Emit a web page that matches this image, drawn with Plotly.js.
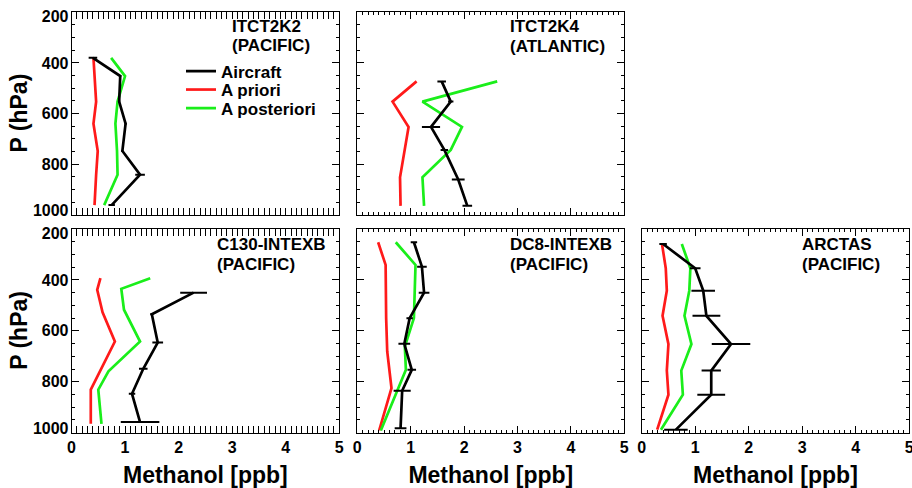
<!DOCTYPE html>
<html>
<head>
<meta charset="utf-8">
<script src="https://cdn.plot.ly/plotly-3.0.1.min.js"></script>
<style>html,body{margin:0;padding:0;background:#fff;}#chart{width:912px;height:488px;}</style>
</head>
<body>
<div id="chart"></div>
<script>
// ---- Data (Methanol [ppb] vs pressure [hPa]) ----
// Panel A: ITCT2K2 (PACIFIC)
var acP_A = [380, 452, 553, 640, 748, 842, 962];
var acX_A = [0.40, 0.91, 0.89, 1.01, 0.95, 1.28, 0.75];
var acE_A = [0.08, 0.02, 0.02, 0.02, 0.02, 0.09, 0.06];
var prP_A = [380, 553, 640, 748, 842, 962];
var prX_A = [0.41, 0.46, 0.41, 0.49, 0.46, 0.43];
var poP_A = [380, 452, 553, 640, 748, 842, 962];
var poX_A = [0.74, 1.00, 0.86, 0.82, 0.85, 0.86, 0.61];
// Panel B: ITCT2K4 (ATLANTIC)
var acP_B = [473, 553, 653, 744, 861, 965];
var acX_B = [1.58, 1.75, 1.38, 1.63, 1.89, 2.06];
var acE_B = [0.08, 0.05, 0.17, 0.07, 0.12, 0.09];
var prP_B = [473, 553, 653, 852, 965];
var prX_B = [1.11, 0.66, 0.96, 0.80, 0.81];
var poP_B = [473, 553, 653, 744, 852, 965];
var poX_B = [2.62, 1.22, 1.96, 1.75, 1.22, 1.25];
// Panel C: C130-INTEXB (PACIFIC)
var acP_C = [450, 535, 646, 749, 847, 958];
var acX_C = [2.28, 1.50, 1.61, 1.34, 1.13, 1.28];
var acE_C = [0.25, 0.03, 0.10, 0.08, 0.06, 0.36];
var prP_C = [393, 439, 527, 642, 831, 965];
var prX_C = [0.54, 0.48, 0.58, 0.81, 0.36, 0.36];
var poP_C = [393, 435, 517, 642, 759, 831, 965];
var poX_C = [1.47, 0.93, 0.98, 1.28, 0.69, 0.50, 0.56];
// Panel D: DC8-INTEXB (PACIFIC)
var acP_D = [252, 348, 450, 550, 651, 753, 835, 982];
var acX_D = [1.06, 1.21, 1.25, 0.98, 0.88, 1.02, 0.84, 0.81];
var acE_D = [0.06, 0.09, 0.10, 0.06, 0.11, 0.08, 0.16, 0.11];
var prP_D = [252, 341, 550, 681, 825, 991];
var prX_D = [0.39, 0.53, 0.54, 0.56, 0.64, 0.41];
var poP_D = [252, 341, 550, 662, 753, 991];
var poX_D = [0.72, 1.09, 1.06, 0.89, 0.91, 0.44];
// Panel E: ARCTAS (PACIFIC)
var acP_E = [259, 354, 442, 541, 652, 756, 851, 988];
var acX_E = [0.40, 1.00, 1.15, 1.21, 1.67, 1.30, 1.30, 0.64];
var acE_E = [0.07, 0.10, 0.22, 0.26, 0.36, 0.18, 0.26, 0.22];
var prP_E = [259, 354, 442, 541, 652, 756, 851, 988];
var prX_E = [0.38, 0.45, 0.47, 0.39, 0.50, 0.47, 0.50, 0.29];
var poP_E = [259, 354, 442, 541, 652, 756, 851, 988];
var poX_E = [0.75, 0.91, 0.89, 0.80, 0.93, 0.74, 0.77, 0.36];

var panelNames = ["ITCT2K2", "ITCT2K4", "C130-INTEXB", "DC8-INTEXB", "ARCTAS"];
var panelRegions = ["(PACIFIC)", "(ATLANTIC)", "(PACIFIC)", "(PACIFIC)", "(PACIFIC)"];
var seriesNames = ["Aircraft", "A priori", "A posteriori"];
var xTickVals = [0, 1, 2, 3, 4, 5];
var yTickVals = [200, 400, 600, 800, 1000];
var yTickText = ["200", "400", "600", "800", "1000"];
var xLabel = "Methanol [ppb]";
var yLabel = "P (hPa)";

// ---- Styling ----
var FONT = "Liberation Sans, Arial, Helvetica, sans-serif";
var cBlack = "#000000", cRed = "#ff1a1a", cGreen = "#1aee1a";
// labels at the frame edges sit slightly inside the frame, as in the original
var yLabelPos = [217, 400, 600, 800, 982];

var panels = [
  {ac:[acX_A,acP_A,acE_A], pr:[prX_A,prP_A], po:[poX_A,poP_A]},
  {ac:[acX_B,acP_B,acE_B], pr:[prX_B,prP_B], po:[poX_B,poP_B]},
  {ac:[acX_C,acP_C,acE_C], pr:[prX_C,prP_C], po:[poX_C,poP_C]},
  {ac:[acX_D,acP_D,acE_D], pr:[prX_D,prP_D], po:[poX_D,poP_D]},
  {ac:[acX_E,acP_E,acE_E], pr:[prX_E,prP_E], po:[poX_E,poP_E]}
];

var traces = [];
panels.forEach(function(p, i){
  var xa = i === 0 ? 'x' : 'x' + (i+1);
  var ya = i === 0 ? 'y' : 'y' + (i+1);
  traces.push({x:p.pr[0], y:p.pr[1], xaxis:xa, yaxis:ya, mode:'lines', name:seriesNames[1],
    line:{color:cRed, width:2.7}, showlegend:i===0, legend:'legend2', hoverinfo:'skip'});
  traces.push({x:p.po[0], y:p.po[1], xaxis:xa, yaxis:ya, mode:'lines', name:seriesNames[2],
    line:{color:cGreen, width:2.7}, showlegend:i===0, legend:'legend3', hoverinfo:'skip'});
  traces.push({x:p.ac[0], y:p.ac[1], xaxis:xa, yaxis:ya, mode:'lines', name:seriesNames[0],
    line:{color:cBlack, width:2.7}, showlegend:i===0, legend:'legend',
    error_x:{type:'data', array:p.ac[2], visible:true, color:cBlack, thickness:2, width:0}, hoverinfo:'skip'});
});
// empty traces that only carry the label axes of the left column
traces.push({x:[], y:[], xaxis:'x', yaxis:'y6', mode:'lines', showlegend:false, hoverinfo:'skip'});
traces.push({x:[], y:[], xaxis:'x3', yaxis:'y7', mode:'lines', showlegend:false, hoverinfo:'skip'});

var colDom = [[0.0784, 0.3720], [0.3918, 0.6845], [0.7036, 0.9969]];
var rowDom = [[0.5600, 0.9748], [0.1133, 0.5307]];
// panel -> [col,row]
var pos = [[0,0],[1,0],[0,1],[1,1],[2,1]];

var tickFont = {family:FONT, size:16, color:'#000', weight:'bold'};
var titleFont = {family:FONT, size:23, color:'#000', weight:'bold'};

function xAxis(i){
  var c = pos[i][0], r = pos[i][1];
  var ya = i === 0 ? 'y' : 'y' + (i+1);
  var ax = {domain:colDom[c], anchor:ya, range:[0,5], tickvals:xTickVals, showticklabels:r===1,
    ticklabeloverflow:'allow',
    showline:true, linecolor:'#000', linewidth:1, mirror:'allticks', ticks:'inside', ticklen:7, tickcolor:'#000',
    minor:{dtick:0.1, tick0:0, ticks:'inside', ticklen:3, tickcolor:'#000'},
    showgrid:false, zeroline:false, tickfont:tickFont, fixedrange:true};
  if (r === 1) ax.title = {text:xLabel, font:titleFont, standoff:16};
  return ax;
}
function yAxis(i){
  var r = pos[i][1];
  var xa = i === 0 ? 'x' : 'x' + (i+1);
  return {domain:rowDom[r], anchor:xa, range:[1000,200], tickvals:yTickVals, showticklabels:false,
    showline:true, linecolor:'#000', linewidth:1, mirror:'allticks', ticks:'inside', ticklen:7, tickcolor:'#000',
    minor:{dtick:50, tick0:200, ticks:'inside', ticklen:3, tickcolor:'#000'},
    showgrid:false, zeroline:false, fixedrange:true};
}
// label-only axes for the left column
function yLabelAxis(base, anchorX, dom){
  return {overlaying:base, anchor:anchorX, side:'left', domain:dom, range:[1000,200], tickvals:yLabelPos, ticktext:yTickText,
    ticks:'', showline:false, showgrid:false, zeroline:false, tickfont:tickFont, ticklabelstandoff:2, fixedrange:true};
}

var legFont = {family:FONT, size:17, color:'#000', weight:'bold'};
var layout = {
  width:912, height:488, margin:{l:0, r:0, t:0, b:0},
  paper_bgcolor:'#fff', plot_bgcolor:'#fff',
  font:{family:FONT, color:'#000'},
  annotations:[],
  legend:{x:181/912, y:1-71.5/488, xanchor:'left', yanchor:'middle', bgcolor:'rgba(0,0,0,0)', borderwidth:0, font:legFont},
  legend2:{x:181/912, y:1-90/488, xanchor:'left', yanchor:'middle', bgcolor:'rgba(0,0,0,0)', borderwidth:0, font:legFont},
  legend3:{x:181/912, y:1-108.5/488, xanchor:'left', yanchor:'middle', bgcolor:'rgba(0,0,0,0)', borderwidth:0, font:legFont}
};
for (var i = 0; i < 5; i++) {
  layout[i === 0 ? 'xaxis' : 'xaxis' + (i+1)] = xAxis(i);
  layout[i === 0 ? 'yaxis' : 'yaxis' + (i+1)] = yAxis(i);
}
layout.yaxis6 = yLabelAxis('y', 'x', rowDom[0]);
layout.yaxis7 = yLabelAxis('y3', 'x3', rowDom[1]);

// y-axis titles, centred on each row
[rowDom[0], rowDom[1]].forEach(function(d){
  layout.annotations.push({xref:'paper', yref:'paper', x:19/912, y:(d[0]+d[1])/2, xanchor:'center', yanchor:'middle',
    textangle:-90, showarrow:false, text:yLabel, font:titleFont});
});

// panel titles (two lines each), page-pixel anchor positions
var titlePos = [[231, 26, 46], [509, 26.5, 46.5], [216, 244, 264], [509, 244, 264], [801, 244, 264]];
var annFont = {family:FONT, size:17, color:'#000', weight:'bold'};
for (var k = 0; k < 5; k++) {
  layout.annotations.push({xref:'paper', yref:'paper', x:titlePos[k][0]/912, y:1-titlePos[k][1]/488,
    xanchor:'left', yanchor:'middle', showarrow:false, text:panelNames[k], borderpad:0, font:annFont});
  layout.annotations.push({xref:'paper', yref:'paper', x:titlePos[k][0]/912, y:1-titlePos[k][2]/488,
    xanchor:'left', yanchor:'middle', showarrow:false, text:panelRegions[k], borderpad:0, font:annFont});
}

Plotly.newPlot('chart', traces, layout, {displayModeBar:false, staticPlot:true});
</script>
</body>
</html>
